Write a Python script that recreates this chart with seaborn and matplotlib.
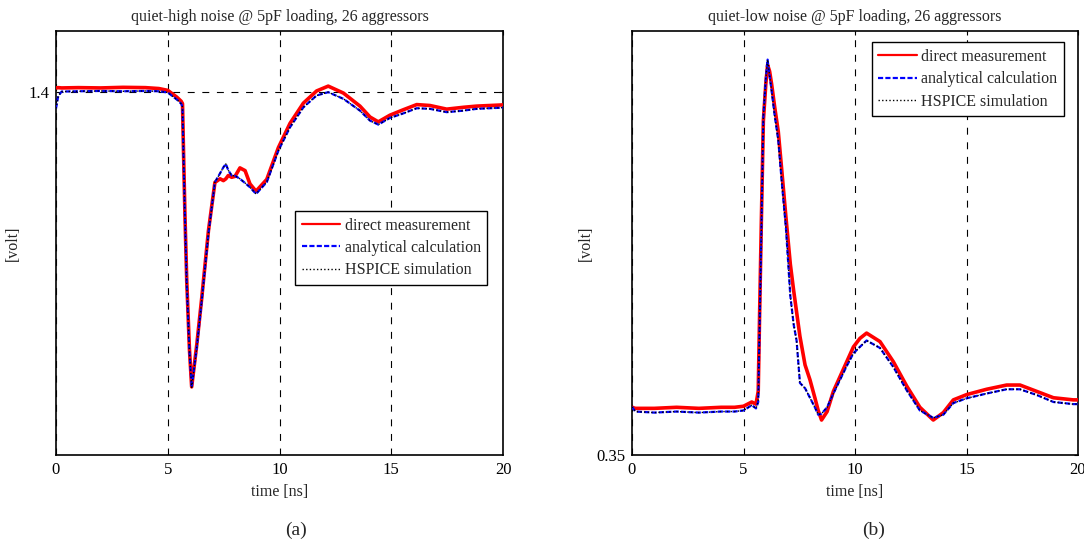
import numpy as np
import pandas as pd
import seaborn as sns
import matplotlib.pyplot as plt

# panel (a): quiet-high noise
time_a = [0, 0.1, 0.25, 1, 2, 3, 4, 4.6, 5.0, 5.4, 5.6, 5.66, 5.7, 5.77, 5.85, 5.97, 6.07,
          6.3, 6.52, 6.82, 7.11, 7.34, 7.49, 7.6, 7.71, 7.86, 8.01, 8.23, 8.46, 8.68, 8.95,
          9.43, 9.95, 10.47, 11.07, 11.66, 12.18, 12.86, 13.6, 14.05, 14.42, 14.94, 15.54,
          16.14, 16.73, 17.48, 18.22, 18.82, 19.42, 20]
meas_a = [1.412, 1.413, 1.412, 1.413, 1.412, 1.414, 1.413, 1.410, 1.404, 1.382, 1.368, 1.360,
          1.220, 0.990, 0.775, 0.550, 0.425, 0.565, 0.718, 0.940, 1.100, 1.112, 1.106, 1.112,
          1.123, 1.117, 1.120, 1.148, 1.139, 1.095, 1.071, 1.110, 1.215, 1.295, 1.362, 1.402,
          1.418, 1.395, 1.352, 1.316, 1.300, 1.322, 1.340, 1.357, 1.354, 1.342, 1.348, 1.352,
          1.354, 1.356]
calc_a = [1.344, 1.385, 1.400, 1.401, 1.402, 1.401, 1.402, 1.401, 1.397, 1.374, 1.360, 1.350,
          1.205, 0.984, 0.766, 0.545, 0.423, 0.556, 0.709, 0.931, 1.101, 1.130, 1.150, 1.161,
          1.140, 1.123, 1.122, 1.112, 1.098, 1.084, 1.062, 1.101, 1.205, 1.282, 1.348, 1.387,
          1.398, 1.376, 1.337, 1.304, 1.291, 1.313, 1.328, 1.345, 1.343, 1.332, 1.337, 1.343,
          1.345, 1.347]
hspice_a = [1.344, 1.385, 1.400, 1.401, 1.402, 1.401, 1.402, 1.401, 1.397, 1.374, 1.360, 1.350,
            1.205, 0.984, 0.766, 0.545, 0.423, 0.556, 0.709, 0.931, 1.101, 1.130, 1.150, 1.161,
            1.140, 1.123, 1.122, 1.112, 1.098, 1.084, 1.062, 1.101, 1.205, 1.282, 1.348, 1.387,
            1.398, 1.376, 1.337, 1.304, 1.291, 1.313, 1.328, 1.345, 1.343, 1.332, 1.337, 1.343,
            1.345, 1.347]

# panel (b): quiet-low noise
time_b = [0, 0.15, 1, 2, 3, 4, 4.6, 5.0, 5.37, 5.56, 5.66, 5.72, 5.8, 5.89, 6.0, 6.08, 6.17,
          6.26, 6.4, 6.56, 6.71, 6.9, 7.1, 7.25, 7.38, 7.53, 7.76, 7.98, 8.2, 8.35, 8.5, 8.75,
          9.03, 9.33, 9.63, 9.93, 10.22, 10.52, 11.12, 11.72, 12.32, 12.91, 13.51, 13.96,
          14.41, 15.01, 15.9, 16.8, 17.4, 18.15, 18.9, 19.79, 20]
meas_b = [0.395, 0.394, 0.394, 0.395, 0.394, 0.395, 0.395, 0.396, 0.400, 0.398, 0.410, 0.480,
          0.570, 0.665, 0.700, 0.718, 0.712, 0.700, 0.678, 0.655, 0.620, 0.575, 0.530, 0.505,
          0.485, 0.462, 0.435, 0.421, 0.404, 0.392, 0.383, 0.391, 0.410, 0.424, 0.438, 0.452,
          0.460, 0.465, 0.457, 0.438, 0.415, 0.395, 0.383, 0.390, 0.402, 0.407, 0.412, 0.416,
          0.416, 0.410, 0.404, 0.402, 0.402]
calc_b = [0.3955, 0.391, 0.390, 0.391, 0.390, 0.391, 0.391, 0.392, 0.397, 0.394, 0.400, 0.470,
          0.560, 0.669, 0.705, 0.723, 0.708, 0.694, 0.670, 0.647, 0.609, 0.565, 0.500, 0.473,
          0.458, 0.418, 0.413, 0.404, 0.395, 0.388, 0.389, 0.395, 0.408, 0.421, 0.434, 0.446,
          0.452, 0.458, 0.451, 0.433, 0.411, 0.392, 0.385, 0.388, 0.399, 0.4035, 0.408, 0.412,
          0.412, 0.4066, 0.400, 0.398, 0.398]
hspice_b = [0.3955, 0.391, 0.390, 0.391, 0.390, 0.391, 0.391, 0.392, 0.397, 0.394, 0.400, 0.470,
            0.560, 0.669, 0.705, 0.723, 0.708, 0.694, 0.670, 0.647, 0.609, 0.565, 0.500, 0.473,
            0.458, 0.418, 0.413, 0.404, 0.395, 0.388, 0.389, 0.395, 0.408, 0.421, 0.434, 0.446,
            0.452, 0.458, 0.451, 0.433, 0.411, 0.392, 0.385, 0.388, 0.399, 0.4035, 0.408, 0.412,
            0.412, 0.4066, 0.400, 0.398, 0.398]

titles = ["quiet-high noise @ 5pF loading, 26 aggressors",
          "quiet-low noise @ 5pF loading, 26 aggressors"]
labels = ["direct measurement", "analytical calculation", "HSPICE simulation"]
panel_tags = ["(a)", "(b)"]
x_ticks = [0, 5, 10, 15, 20]

sns.set_style("white")
plt.rcParams['font.family'] = ['Liberation Serif', 'DejaVu Serif']
plt.rcParams['lines.scale_dashes'] = False

fig = plt.figure(figsize=(10.84, 5.44), dpi=100)
ax_a = fig.add_axes([56/1084, 89/544, 447/1084, 424/544])
ax_b = fig.add_axes([632/1084, 89/544, 446/1084, 424/544])

panels = [
    (ax_a, time_a, meas_a, calc_a, hspice_a, (0.2, 1.6), [1.4], ["1.4"], (0.535, 0.575), -0.078),
    (ax_b, time_b, meas_b, calc_b, hspice_b, (0.35, 0.75), [0.35], ["0.35"], (0.538, 0.973), -0.085),
]

for i, (ax, t, meas, calc, hsp, ylim, yt, ytl, leg_pos, ylab_x) in enumerate(panels):
    sns.lineplot(x=t, y=meas, ax=ax, color='#ff0000', lw=2.6, label=labels[0], zorder=3)
    sns.lineplot(x=t, y=calc, ax=ax, color='#0000ff', lw=1.6, ls=(0, (3.7, 1.6)),
                 label=labels[1], zorder=4)
    sns.lineplot(x=t, y=hsp, ax=ax, color='black', lw=1.0, ls=(0, (1, 1.6)),
                 label=labels[2], zorder=5)

    ax.set_xlim(0, 20)
    ax.set_ylim(*ylim)
    ax.set_xticks(x_ticks)
    ax.set_yticks(yt)
    ax.set_yticklabels(ytl)
    ax.grid(True, color='black', lw=0.8, ls=(0, (5, 5.5)))
    ax.set_axisbelow(True)
    ax.tick_params(direction='in', length=3, width=0.8, labelsize=12, pad=5,
                   top=True, right=True, colors='black')
    for s in ax.spines.values():
        s.set_color('black')
        s.set_linewidth(1.2)

    ax.set_title(titles[i], fontsize=11.5, pad=7)
    ax.set_xlabel("time [ns]", fontsize=11.5, labelpad=4)
    ax.set_ylabel("[volt]", fontsize=11.5)
    ax.yaxis.set_label_coords(ylab_x, 0.5)

    leg = ax.legend(loc='upper left', bbox_to_anchor=leg_pos, fontsize=11.5,
                    frameon=True, fancybox=False, framealpha=1, edgecolor='black',
                    borderpad=0.4, handlelength=2.4, handletextpad=0.3,
                    labelspacing=0.4, borderaxespad=0)
    leg.get_frame().set_linewidth(1.0)
    leg.get_lines()[0].set_linewidth(1.6)

fig.text(296/1084, 1 - 530/544, panel_tags[0], fontsize=14, ha='center', va='center')
fig.text(874/1084, 1 - 530/544, panel_tags[1], fontsize=14, ha='center', va='center')

fig.savefig("out.png", dpi=100)
